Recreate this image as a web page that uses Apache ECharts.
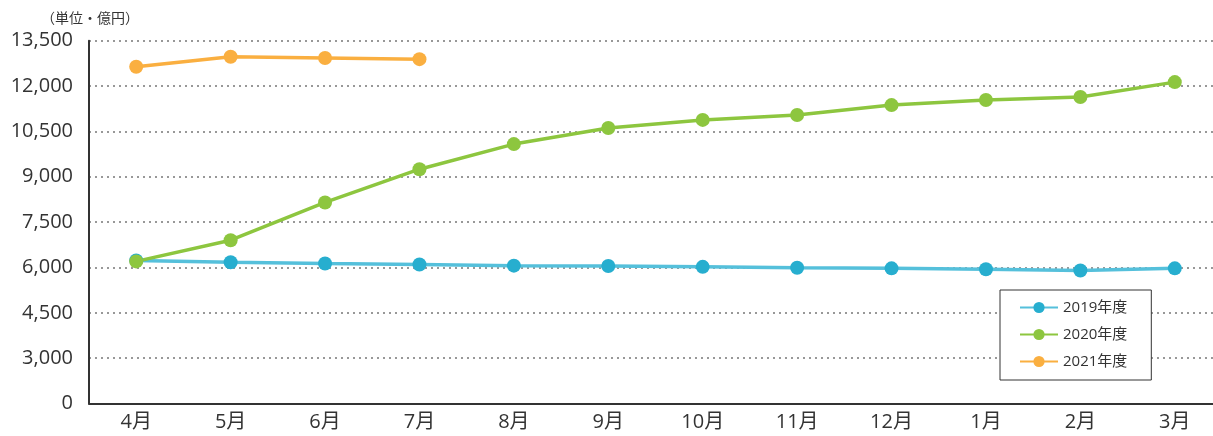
<!DOCTYPE html>
<html>
<head>
<meta charset="utf-8">
<script src="https://cdn.jsdelivr.net/npm/echarts@6/dist/echarts.min.js"></script>
<style>
  html, body { margin: 0; padding: 0; background: #fff; }
  #chart { width: 1213px; height: 436px; }
</style>
</head>
<body>
<div id="chart"></div>
<script>
// months of the fiscal year
const months = ['4月', '5月', '6月', '7月', '8月', '9月', '10月', '11月', '12月', '1月', '2月', '3月']
const names = ['2019年度', '2020年度', '2021年度']

// values in 億円
const fy2019 = [6230, 6170, 6130, 6100, 6060, 6050, 6020, 5990, 5970, 5940, 5900, 5970]
const fy2020 = [6200, 6900, 8150, 9250, 10080, 10610, 10880, 11040, 11370, 11540, 11640, 12130]
const fy2021 = [12640, 12970, 12930, 12890]

// the axis is cut below 3,000: its bottom is labelled 0
const yMin = 1500, yMax = 13500, yStep = 1500

const font = "'Open Sans', 'Noto Sans CJK JP', sans-serif"

var myChart = echarts.init(document.getElementById('chart'), null, { renderer: 'canvas' })

function line(name, data, color, lineColor) {
  return {
    name: name,
    type: 'line',
    data: data,
    symbol: 'circle',
    symbolSize: 14,
    itemStyle: { color: color },
    lineStyle: { color: lineColor, width: 3.5 },
    emphasis: { disabled: true },
    animation: false
  }
}

myChart.setOption({
  backgroundColor: '#fff',
  textStyle: { fontFamily: font },
  graphic: [{
    type: 'text',
    left: 41,
    top: 12,
    style: { text: '（単位・億円）', fontSize: 14, fill: '#333', fontFamily: font }
  }],
  grid: { left: 89, top: 40.7, width: 1133, bottom: 32.5, outerBoundsMode: 'none', containLabel: false },
  legend: {
    data: names,
    orient: 'vertical',
    left: 1000,
    top: 290,
    padding: [10, 24, 11, 19],
    itemGap: 12,
    itemWidth: 38,
    itemHeight: 14,
    borderColor: '#333',
    borderWidth: 1,
    backgroundColor: '#fff',
    textStyle: { fontSize: 15, color: '#333', fontFamily: font }
  },
  xAxis: {
    type: 'category',
    data: months,
    boundaryGap: true,
    axisLine: { lineStyle: { color: '#333', width: 2 } },
    axisTick: { show: false },
    axisLabel: { fontSize: 20, color: '#333', margin: 9, fontFamily: font }
  },
  yAxis: {
    type: 'value',
    min: yMin,
    max: yMax,
    interval: yStep,
    axisLine: { show: true, lineStyle: { color: '#333', width: 2 } },
    axisTick: { show: false },
    axisLabel: {
      fontSize: 20,
      color: '#333',
      margin: 16,
      fontFamily: font,
      formatter: v => v === yMin ? '0' : v.toLocaleString('en-US')
    },
    splitLine: { lineStyle: { color: '#777', type: [2, 4], width: 1.5 } }
  },
  series: [
    line(names[0], fy2019, '#27AECF', '#55C0DB'),
    line(names[1], fy2020, '#8DC63F', '#8DC63F'),
    line(names[2], fy2021, '#FAAF40', '#FAAF40')
  ]
})
</script>
</body>
</html>
